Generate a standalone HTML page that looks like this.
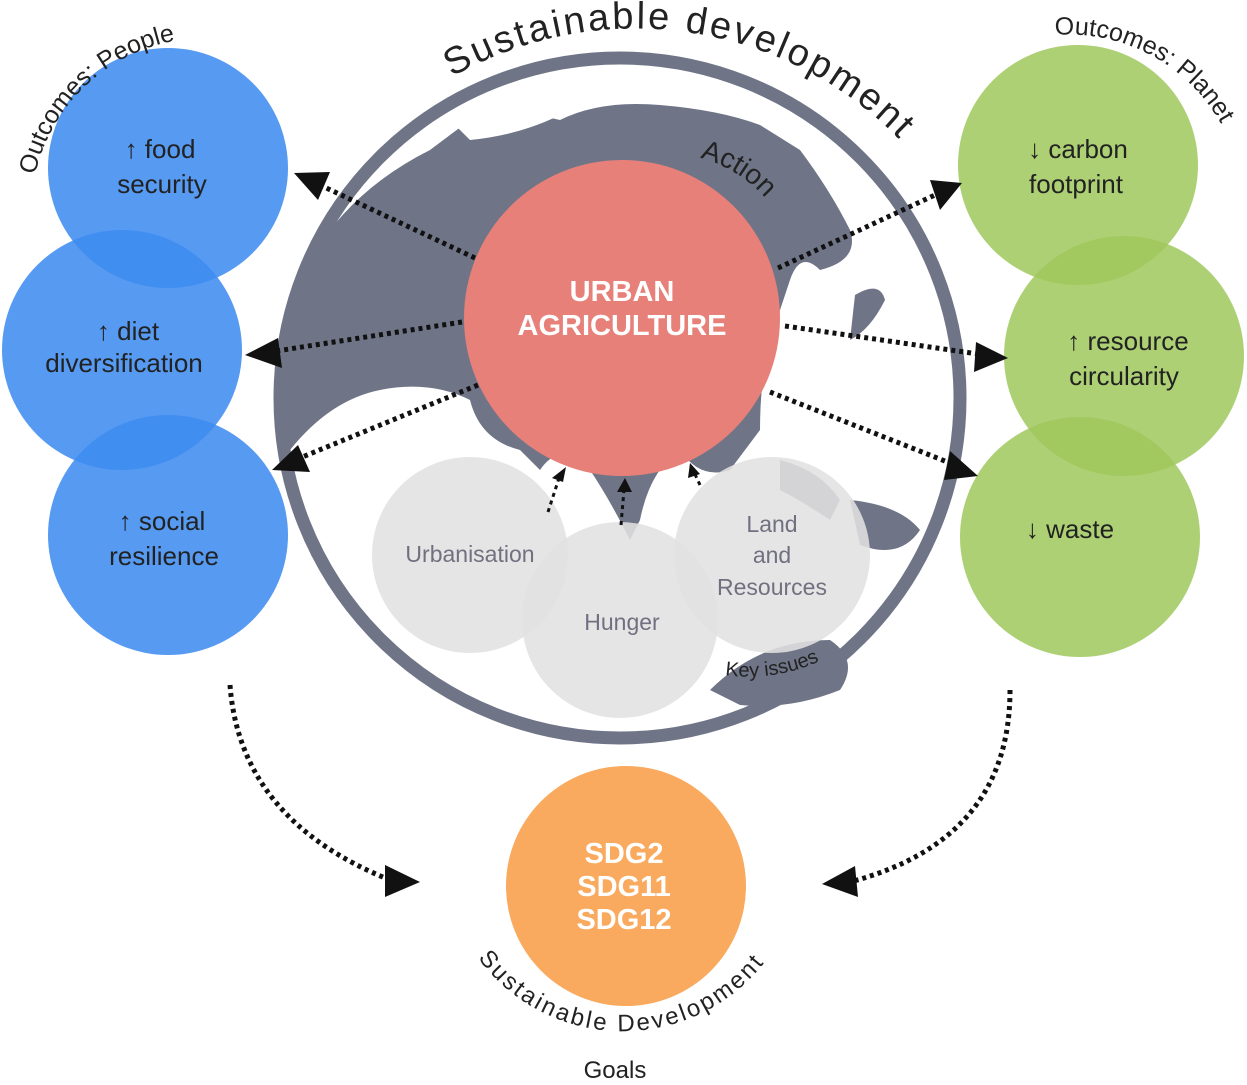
<!DOCTYPE html>
<html><head><meta charset="utf-8"><style>
html,body{margin:0;padding:0;background:#fff;}
svg{display:block;font-family:"Liberation Sans","DejaVu Sans",sans-serif;}
</style></head><body>
<svg width="1247" height="1085" viewBox="0 0 1247 1085" xmlns="http://www.w3.org/2000/svg">
<defs>
<path id="arcTop" d="M 452 77 A 370 370 0 0 1 930 175"/>
<path id="arcAction" d="M 700 158 A 130 130 0 0 1 790 240"/>
<path id="arcPeople" d="M 35 175 A 175 175 0 0 1 205 38"/>
<path id="arcPlanet" d="M 1055 35 A 175 175 0 0 1 1240 175"/>
<path id="arcSDG" d="M 478 958 A 180 180 0 0 0 770 955"/>
<path id="arcKey" d="M 725 675 A 170 170 0 0 0 840 650"/>
</defs>

<circle cx="620" cy="398" r="340" fill="#fff" stroke="#6f7587" stroke-width="13"/>
<g fill="#6f7587">
<path d="M 290 300 Q 330 200 430 150 L 470 120 Q 520 110 560 120 Q 600 100 660 105 Q 720 110 760 125 L 800 150 Q 830 190 850 230 Q 860 260 820 270 Q 800 250 790 280 L 770 340 Q 760 380 760 430 L 730 470 Q 700 480 680 450 Q 650 470 640 520 L 630 540 Q 610 500 590 470 Q 560 440 540 470 L 520 450 Q 480 440 470 400 Q 430 380 380 390 Q 330 400 290 450 Q 280 380 290 300 Z"/>
<path d="M 455 125 Q 500 105 560 115 Q 520 135 470 140 Z" fill="#fff"/>
<path d="M 855 295 Q 880 280 885 300 Q 870 330 850 340 Z"/>
<path d="M 850 500 Q 900 505 920 530 Q 900 560 860 545 Z"/>
<path d="M 710 690 Q 760 640 830 640 Q 860 660 840 690 Q 790 710 740 705 Z"/>
<path d="M 780 460 Q 820 470 840 500 L 830 520 Q 800 500 780 490 Z"/>
</g>

<g fill="#e3e1e1" fill-opacity="0.88">
<circle cx="470" cy="555" r="98"/>
<circle cx="772" cy="555" r="98"/>
<circle cx="620" cy="620" r="98"/>
</g>

<circle cx="622" cy="318" r="158" fill="#e8807a"/>
<text x="622" y="301" text-anchor="middle" font-size="29" font-weight="bold" fill="#fff">URBAN</text>
<text x="622" y="335" text-anchor="middle" font-size="29" font-weight="bold" fill="#fff">AGRICULTURE</text>

<g fill="#3f8cf0" fill-opacity="0.88">
<circle cx="168" cy="168" r="120"/>
<circle cx="122" cy="350" r="120"/>
<circle cx="168" cy="535" r="120"/>
</g>
<g fill="#9fc85c" fill-opacity="0.85">
<circle cx="1078" cy="165" r="120"/>
<circle cx="1124" cy="356" r="120"/>
<circle cx="1080" cy="537" r="120"/>
</g>
<circle cx="626" cy="886" r="120" fill="#f9aa5e"/>

<g stroke="#111" stroke-width="5" stroke-dasharray="4 4" fill="none">
<line x1="475" y1="258" x2="320" y2="185"/>
<line x1="462" y1="322" x2="270" y2="352"/>
<line x1="478" y1="385" x2="295" y2="460"/>
<line x1="778" y1="268" x2="935" y2="195"/>
<line x1="785" y1="326" x2="985" y2="355"/>
<line x1="770" y1="392" x2="955" y2="465"/>
<line x1="548" y1="512" x2="560" y2="475" stroke-width="3"/>
<line x1="621" y1="525" x2="624" y2="490" stroke-width="3"/>
<line x1="700" y1="485" x2="693" y2="470" stroke-width="3"/>
<path d="M 230 685 Q 240 820 390 880"/>
<path d="M 1010 690 Q 1010 840 850 882"/>
</g>
<g fill="#111">
<polygon points="294,173 330,172 318,200"/>
<polygon points="245,355 278,338 282,368"/>
<polygon points="272,470 298,445 310,472"/>
<polygon points="962,183 930,180 940,210"/>
<polygon points="1008,358 976,342 974,372"/>
<polygon points="978,476 950,451 944,480"/>
<polygon points="566,467 552,478 563,482"/>
<polygon points="625,478 617,492 632,492"/>
<polygon points="690,463 688,478 700,474"/>
<polygon points="420,882 385,865 385,897"/>
<polygon points="822,884 855,866 858,897"/>
</g>

<g font-size="26" fill="#222" text-anchor="middle">
<text x="160" y="158">↑ food</text>
<text x="162" y="193">security</text>
<text x="128" y="340">↑ diet</text>
<text x="124" y="372">diversification</text>
<text x="162" y="530">↑ social</text>
<text x="164" y="565">resilience</text>
<text x="1078" y="158">↓ carbon</text>
<text x="1076" y="193">footprint</text>
<text x="1128" y="350">↑ resource</text>
<text x="1124" y="385">circularity</text>
<text x="1070" y="538">↓ waste</text>
</g>
<g font-size="29" font-weight="bold" fill="#fff" text-anchor="middle">
<text x="624" y="863">SDG2</text>
<text x="624" y="896">SDG11</text>
<text x="624" y="929">SDG12</text>
</g>
<g font-size="23" fill="#707080" text-anchor="middle">
<text x="470" y="562">Urbanisation</text>
<text x="622" y="630">Hunger</text>
<text x="772" y="532">Land</text>
<text x="772" y="563">and</text>
<text x="772" y="595">Resources</text>
</g>

<text font-size="38" fill="#222"><textPath href="#arcTop" textLength="485" lengthAdjust="spacing">Sustainable development</textPath></text>
<text font-size="28" fill="#222"><textPath href="#arcAction">Action</textPath></text>
<text font-size="25" fill="#222"><textPath href="#arcPeople">Outcomes: People</textPath></text>
<text font-size="25" fill="#222"><textPath href="#arcPlanet">Outcomes: Planet</textPath></text>
<text font-size="24" fill="#222"><textPath href="#arcSDG" textLength="330" lengthAdjust="spacing">Sustainable Development</textPath></text>
<text font-size="20" fill="#222"><textPath href="#arcKey">Key issues</textPath></text>
<text x="615" y="1078" font-size="24" fill="#222" text-anchor="middle">Goals</text>
</svg>
</body></html>
